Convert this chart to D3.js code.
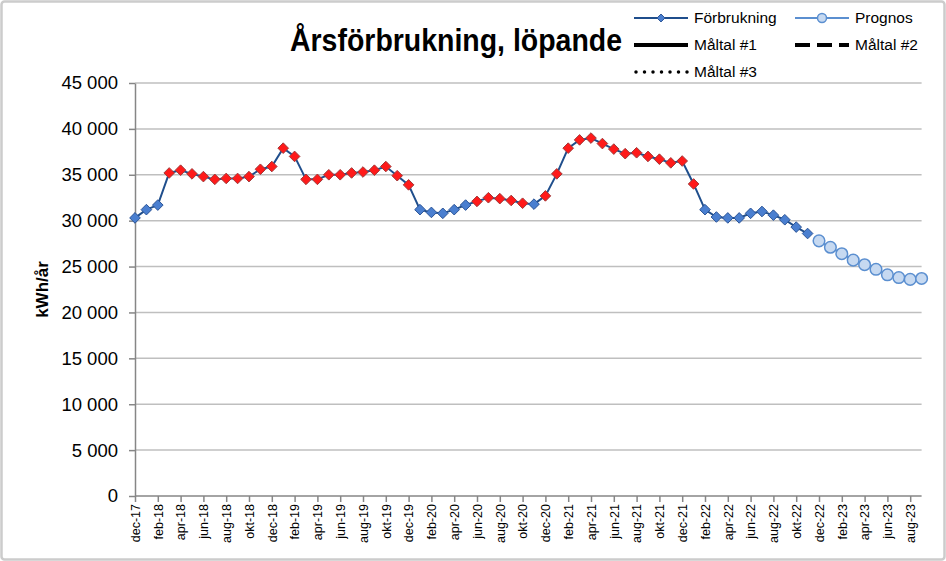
<!doctype html>
<html lang="sv">
<head>
<meta charset="UTF-8">
<title>Årsförbrukning, löpande</title>
<script src="https://d3js.org/d3.v7.min.js"></script>
<style>
  html, body { margin: 0; padding: 0; background: #fff; }
  svg { display: block; font-family: 'Liberation Sans', Arial, sans-serif; }
  .grid line { stroke: #bfbfbf; stroke-width: 1.5; }
  .axis path, .axis line { stroke: #868686; stroke-width: 1.5; }
</style>
</head>
<body>
<svg width="946" height="561"></svg>
<script>
  const months = [
    'dec-17', 'jan-18', 'feb-18', 'mar-18', 'apr-18', 'maj-18', 'jun-18', 'jul-18', 'aug-18', 'sep-18', 'okt-18', 'nov-18',
    'dec-18', 'jan-19', 'feb-19', 'mar-19', 'apr-19', 'maj-19', 'jun-19', 'jul-19', 'aug-19', 'sep-19', 'okt-19', 'nov-19',
    'dec-19', 'jan-20', 'feb-20', 'mar-20', 'apr-20', 'maj-20', 'jun-20', 'jul-20', 'aug-20', 'sep-20', 'okt-20', 'nov-20',
    'dec-20', 'jan-21', 'feb-21', 'mar-21', 'apr-21', 'maj-21', 'jun-21', 'jul-21', 'aug-21', 'sep-21', 'okt-21', 'nov-21',
    'dec-21', 'jan-22', 'feb-22', 'mar-22', 'apr-22', 'maj-22', 'jun-22', 'jul-22', 'aug-22', 'sep-22', 'okt-22', 'nov-22',
    'dec-22', 'jan-23', 'feb-23', 'mar-23', 'apr-23', 'maj-23', 'jun-23', 'jul-23', 'aug-23', 'sep-23'
  ]

  // Förbrukning, dec-17 .. nov-22
  const forbrukning = [
    30300, 31200, 31700, 35200, 35500, 35100, 34800, 34500, 34600, 34600, 34800, 35600,
    35900, 37900, 37000, 34500, 34500, 35000, 35000, 35200, 35300, 35500, 35900, 34900,
    33900, 31200, 30900, 30800, 31200, 31700, 32100, 32500, 32400, 32200, 31900, 31800,
    32700, 35100, 37900, 38800, 39000, 38400, 37800, 37300, 37400, 37000, 36700, 36300,
    36500, 34000, 31200, 30400, 30300, 30300, 30800, 31000, 30600, 30100, 29300, 28600
  ]

  // months whose marker is drawn red
  const redMonths = [
    'mar-18', 'apr-18', 'maj-18', 'jun-18', 'jul-18', 'aug-18', 'sep-18', 'okt-18', 'nov-18', 'dec-18',
    'jan-19', 'feb-19', 'mar-19', 'apr-19', 'maj-19', 'jun-19', 'jul-19', 'aug-19', 'sep-19', 'okt-19', 'nov-19', 'dec-19',
    'jun-20', 'jul-20', 'aug-20', 'sep-20', 'okt-20',
    'dec-20', 'jan-21', 'feb-21', 'mar-21', 'apr-21', 'maj-21', 'jun-21', 'jul-21', 'aug-21', 'sep-21', 'okt-21', 'nov-21',
    'dec-21', 'jan-22'
  ]

  // Prognos, dec-22 .. sep-23
  const prognosStart = 'dec-22'
  const prognos = [27800, 27100, 26400, 25700, 25200, 24700, 24100, 23800, 23600, 23700]

  const yTicks = [0, 5000, 10000, 15000, 20000, 25000, 30000, 35000, 40000, 45000]

  const legendItems = [
    { name: 'Förbrukning', col: 0, row: 0, type: 'forb' },
    { name: 'Prognos', col: 1, row: 0, type: 'prog' },
    { name: 'Måltal #1', col: 0, row: 1, type: 'solid' },
    { name: 'Måltal #2', col: 1, row: 1, type: 'dash' },
    { name: 'Måltal #3', col: 0, row: 2, type: 'dot' }
  ]

  const svg = d3.select('svg')
  const margin = { left: 135, right: 24.4, top: 83, bottom: 65 }
  const width = 946, height = 561

  const x = d3.scalePoint()
    .domain(months)
    .range([margin.left, width - margin.right])

  const y = d3.scaleLinear()
    .domain([0, 45000])
    .range([height - margin.bottom, margin.top])

  const fmt = v => d3.format(',')(v).replace(/,/g, ' ')

  // chart border
  svg.append('rect')
    .attr('x', 1.5).attr('y', 1.5)
    .attr('width', width - 3).attr('height', height - 3)
    .attr('rx', 3)
    .attr('fill', '#fff')
    .attr('stroke', '#cccccc')
    .attr('stroke-width', 2.5)

  // gridlines
  svg.append('g')
    .attr('class', 'grid')
    .selectAll('line')
    .data(yTicks.filter(d => d > 0))
    .enter()
    .append('line')
    .attr('x1', margin.left).attr('x2', width - margin.right)
    .attr('y1', d => y(d)).attr('y2', d => y(d))

  // y axis
  const yAxis = svg.append('g')
    .attr('class', 'axis')
    .attr('transform', `translate(${margin.left},0)`)
    .call(d3.axisLeft(y).tickValues(yTicks).tickFormat(fmt).tickSize(6).tickSizeOuter(0))
  yAxis.selectAll('text')
    .attr('x', -17)
    .attr('fill', '#000')
    .style('font-size', '18.5px')

  // x axis
  const xAxis = svg.append('g')
    .attr('class', 'axis')
    .attr('transform', `translate(0,${y(0)})`)
    .call(d3.axisBottom(x).tickValues(months.filter((d, i) => i % 2 === 0)).tickSize(6).tickSizeOuter(0))
  xAxis.select('.domain').attr('d', `M${margin.left},0H${width - margin.right}`)
  xAxis.selectAll('text')
    .attr('transform', 'rotate(-90)')
    .attr('x', -8)
    .attr('y', 0)
    .attr('dy', '0.35em')
    .attr('text-anchor', 'end')
    .attr('fill', '#000')
    .style('font-size', '12.5px')

  // y axis title
  svg.append('text')
    .attr('transform', `translate(48,${(y(0) + y(45000)) / 2}) rotate(-90)`)
    .attr('text-anchor', 'middle')
    .style('font-size', '17px')
    .style('font-weight', 'bold')
    .text('kWh/år')

  // title
  svg.append('text')
    .attr('x', 622)
    .attr('y', 51)
    .attr('text-anchor', 'end')
    .attr('textLength', 332)
    .attr('lengthAdjust', 'spacingAndGlyphs')
    .style('font-size', '31px')
    .style('font-weight', 'bold')
    .text('Årsförbrukning, löpande')

  const forbData = forbrukning.map((v, i) => ({ m: months[i], v }))
  const p0 = months.indexOf(prognosStart)
  const progData = prognos.map((v, i) => ({ m: months[p0 + i], v }))

  const line = d3.line().x(d => x(d.m)).y(d => y(d.v))
  const diamond = d3.symbol().type(d3.symbolDiamond2).size(72)

  // Förbrukning
  svg.append('path')
    .datum(forbData)
    .attr('fill', 'none')
    .attr('stroke', '#1f4e8c')
    .attr('stroke-width', 2)
    .attr('d', line)

  svg.append('g')
    .selectAll('path')
    .data(forbData)
    .enter()
    .append('path')
    .attr('transform', d => `translate(${x(d.m)},${y(d.v)})`)
    .attr('d', diamond)
    .attr('fill', d => redMonths.includes(d.m) ? '#ff1a1a' : '#4a7fd0')
    .attr('stroke', d => redMonths.includes(d.m) ? '#a03a3a' : '#2c5597')
    .attr('stroke-width', 1)

  // Prognos
  svg.append('path')
    .datum(progData)
    .attr('fill', 'none')
    .attr('stroke', '#5b8fd0')
    .attr('stroke-width', 2)
    .attr('d', line)

  svg.append('g')
    .selectAll('circle')
    .data(progData)
    .enter()
    .append('circle')
    .attr('cx', d => x(d.m))
    .attr('cy', d => y(d.v))
    .attr('r', 5.8)
    .attr('fill', '#c6d9f1')
    .attr('stroke', '#5b8fd0')
    .attr('stroke-width', 1.5)

  // legend
  const legend = svg.append('g').attr('transform', 'translate(634,18)')
  const item = legend.selectAll('g')
    .data(legendItems)
    .enter()
    .append('g')
    .attr('transform', d => `translate(${d.col * 161},${d.row * 27})`)

  item.each(function (d) {
    const g = d3.select(this)
    if (d.type === 'forb' || d.type === 'prog') {
      g.append('line')
        .attr('x1', 0).attr('x2', 54)
        .attr('stroke', d.type === 'forb' ? '#1f4e8c' : '#5b8fd0')
        .attr('stroke-width', 2)
      if (d.type === 'forb') {
        g.append('path')
          .attr('transform', 'translate(27,0)')
          .attr('d', d3.symbol().type(d3.symbolDiamond2).size(40))
          .attr('fill', '#4a7fd0').attr('stroke', '#2c5597')
      } else {
        g.append('circle')
          .attr('cx', 27).attr('r', 4.5)
          .attr('fill', '#c6d9f1').attr('stroke', '#5b8fd0').attr('stroke-width', 1.5)
      }
    } else {
      g.append('line')
        .attr('x1', d.type === 'dot' ? 2 : 0).attr('x2', 54)
        .attr('stroke', '#000')
        .attr('stroke-width', d.type === 'dot' ? 3.5 : 4)
        .attr('stroke-linecap', d.type === 'dot' ? 'round' : 'butt')
        .attr('stroke-dasharray', d.type === 'dash' ? '15,7' : d.type === 'dot' ? '0,8.5' : null)
    }
    g.append('text')
      .attr('x', 60)
      .attr('dy', '0.35em')
      .style('font-size', '15.5px')
      .text(d.name)
  })
</script>
</body>
</html>
